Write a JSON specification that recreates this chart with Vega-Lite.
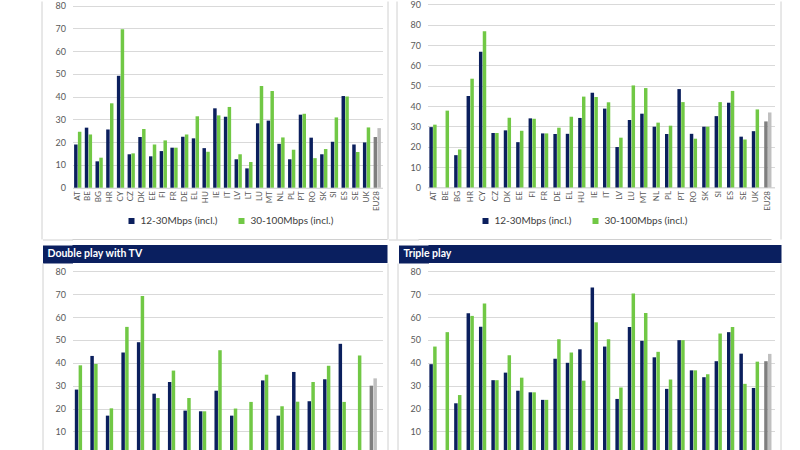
{
  "$schema": "https://vega.github.io/schema/vega-lite/v6.json",
  "padding": {"left": 41.5, "top": 0, "right": 0, "bottom": 0},
  "background": "white",
  "config": {
    "font": "Lato",
    "view": {"stroke": null},
    "axisX": {"labelAngle": -90, "labelFontSize": 8, "labelColor": "#595959", "labelPadding": 3, "ticks": false, "domainColor": "#d9d9d9", "grid": false},
    "axisY": {"labelPadding": 7, "labelFontSize": 9, "labelColor": "#595959", "ticks": false, "domain": false, "gridColor": "#d9d9d9"},
    "legend": {"orient": "none", "direction": "horizontal", "title": null, "symbolType": "square", "symbolSize": 36, "labelFontSize": 10, "labelColor": "#404040", "columnPadding": 18, "legendX": 54, "legendY": 215}
  },
  "datasets": {
    "tl": [
      {"c": "AT", "lo": 19.0, "hi": 24.6}, {"c": "BE", "lo": 26.4, "hi": 23.4}, {"c": "BG", "lo": 11.6, "hi": 13.2},
      {"c": "HR", "lo": 25.6, "hi": 37.1}, {"c": "CY", "lo": 49.2, "hi": 69.6}, {"c": "CZ", "lo": 14.7, "hi": 15.1},
      {"c": "DK", "lo": 22.3, "hi": 25.8}, {"c": "EE", "lo": 13.8, "hi": 19.0}, {"c": "FI", "lo": 16.1, "hi": 20.8},
      {"c": "FR", "lo": 17.6, "hi": 17.6}, {"c": "DE", "lo": 22.4, "hi": 23.4}, {"c": "EL", "lo": 21.7, "hi": 31.4},
      {"c": "HU", "lo": 17.4, "hi": 15.8}, {"c": "IE", "lo": 34.9, "hi": 31.8}, {"c": "IT", "lo": 31.2, "hi": 35.5},
      {"c": "LV", "lo": 12.5, "hi": 14.7}, {"c": "LT", "lo": 8.5, "hi": 11.3}, {"c": "LU", "lo": 28.3, "hi": 44.7},
      {"c": "MT", "lo": 29.5, "hi": 42.5}, {"c": "NL", "lo": 19.3, "hi": 22.1}, {"c": "PL", "lo": 12.5, "hi": 16.7},
      {"c": "PT", "lo": 32.1, "hi": 32.5}, {"c": "RO", "lo": 22.0, "hi": 13.0}, {"c": "SK", "lo": 14.7, "hi": 17.0},
      {"c": "SI", "lo": 20.2, "hi": 30.9}, {"c": "ES", "lo": 40.3, "hi": 40.1}, {"c": "SE", "lo": 19.0, "hi": 15.7},
      {"c": "UK", "lo": 19.9, "hi": 26.5}, {"c": "EU28", "lo": 22.3, "hi": 26.2}
    ],
    "tr": [
      {"c": "AT", "lo": 29.7, "hi": 30.9}, {"c": "BE", "lo": null, "hi": 37.8}, {"c": "BG", "lo": 15.9, "hi": 18.7},
      {"c": "HR", "lo": 45.0, "hi": 53.5}, {"c": "CY", "lo": 66.7, "hi": 76.8}, {"c": "CZ", "lo": 26.8, "hi": 26.8},
      {"c": "DK", "lo": 28.1, "hi": 34.3}, {"c": "EE", "lo": 22.3, "hi": 27.9}, {"c": "FI", "lo": 34.0, "hi": 33.8},
      {"c": "FR", "lo": 26.6, "hi": 26.6}, {"c": "DE", "lo": 26.3, "hi": 29.4}, {"c": "EL", "lo": 26.4, "hi": 34.8},
      {"c": "HU", "lo": 34.2, "hi": 44.7}, {"c": "IE", "lo": 46.6, "hi": 44.5}, {"c": "IT", "lo": 38.8, "hi": 41.9},
      {"c": "LV", "lo": 19.9, "hi": 24.5}, {"c": "LU", "lo": 33.2, "hi": 50.2}, {"c": "MT", "lo": 36.3, "hi": 48.9},
      {"c": "NL", "lo": 29.9, "hi": 31.9}, {"c": "PL", "lo": 26.3, "hi": 30.4}, {"c": "PT", "lo": 48.4, "hi": 42.0},
      {"c": "RO", "lo": 26.4, "hi": 24.0}, {"c": "SK", "lo": 29.9, "hi": 29.9}, {"c": "SI", "lo": 35.1, "hi": 42.0},
      {"c": "ES", "lo": 41.7, "hi": 47.5}, {"c": "SE", "lo": 25.0, "hi": 23.6}, {"c": "UK", "lo": 27.7, "hi": 38.4},
      {"c": "EU28", "lo": 32.5, "hi": 36.9}
    ],
    "bl": [
      {"c": "AT", "lo": 28.3, "hi": 38.9}, {"c": "BE", "lo": 43.0, "hi": 39.5}, {"c": "BG", "lo": 16.9, "hi": 20.1},
      {"c": "HR", "lo": 44.5, "hi": 55.7}, {"c": "CY", "lo": 49.0, "hi": 69.2}, {"c": "CZ", "lo": 26.5, "hi": 24.6},
      {"c": "DK", "lo": 31.6, "hi": 36.6}, {"c": "EE", "lo": 19.1, "hi": 24.6}, {"c": "FI", "lo": 18.8, "hi": 18.8},
      {"c": "FR", "lo": 27.8, "hi": 45.5}, {"c": "DE", "lo": 16.9, "hi": 20.0}, {"c": "EL", "lo": null, "hi": 22.9},
      {"c": "HU", "lo": 32.3, "hi": 34.8}, {"c": "IE", "lo": 16.9, "hi": 21.0}, {"c": "LU", "lo": 36.0, "hi": 23.0},
      {"c": "MT", "lo": 23.2, "hi": 31.6}, {"c": "PT", "lo": 32.8, "hi": 38.7}, {"c": "SI", "lo": 48.3, "hi": 22.9},
      {"c": "UK", "lo": null, "hi": 43.2}, {"c": "EU28", "lo": 30.0, "hi": 33.2}
    ],
    "br": [
      {"c": "AT", "lo": 39.4, "hi": 47.1}, {"c": "BE", "lo": null, "hi": 53.4}, {"c": "BG", "lo": 22.3, "hi": 25.9},
      {"c": "HR", "lo": 61.7, "hi": 60.5}, {"c": "CY", "lo": 55.8, "hi": 65.9}, {"c": "CZ", "lo": 32.4, "hi": 32.4},
      {"c": "DK", "lo": 35.7, "hi": 43.3}, {"c": "EE", "lo": 27.8, "hi": 33.5}, {"c": "FI", "lo": 27.1, "hi": 27.1},
      {"c": "FR", "lo": 23.8, "hi": 23.8}, {"c": "DE", "lo": 41.8, "hi": 50.3}, {"c": "EL", "lo": 40.0, "hi": 44.5},
      {"c": "HU", "lo": 45.9, "hi": 32.2}, {"c": "IE", "lo": 72.9, "hi": 57.7}, {"c": "IT", "lo": 47.1, "hi": 50.3},
      {"c": "LV", "lo": 24.2, "hi": 29.2}, {"c": "LU", "lo": 55.7, "hi": 70.3}, {"c": "MT", "lo": 49.6, "hi": 61.8},
      {"c": "NL", "lo": 42.4, "hi": 44.8}, {"c": "PL", "lo": 28.6, "hi": 32.7}, {"c": "PT", "lo": 49.9, "hi": 49.9},
      {"c": "RO", "lo": 36.7, "hi": 36.7}, {"c": "SK", "lo": 33.7, "hi": 35.0}, {"c": "SI", "lo": 40.7, "hi": 52.8},
      {"c": "ES", "lo": 53.4, "hi": 55.7}, {"c": "SE", "lo": 44.0, "hi": 30.8}, {"c": "UK", "lo": 29.0, "hi": 40.5},
      {"c": "EU28", "lo": 40.7, "hi": 43.9}
    ],
    "tbl": [{"t": "Double play with TV"}],
    "tbr": [{"t": "Triple play"}],
    "one": [{"k": 0}]
  },
  "vconcat": [
    {
      "vconcat": [
        {
          "hconcat": [
            {
              "width": 310, "height": 238,
              "data": {"name": "tl"},
              "transform": [{"fold": ["lo", "hi"], "as": ["speed", "value"]}],
              "encoding": {
                "x": {"field": "c", "type": "nominal", "sort": null, "title": null, "scale": {"paddingInner": 0.32, "paddingOuter": 0.15}, "axis": {"offset": -51.3}}
              },
              "layer": [
                {
                  "mark": {"type": "bar"},
                  "encoding": {
                    "xOffset": {"field": "speed", "type": "nominal", "sort": ["lo", "hi"], "scale": {"paddingInner": 0.08}},
                    "y": {"field": "value", "type": "quantitative", "title": null, "scale": {"domain": [-22.54, 82.07], "nice": false, "zero": false}, "axis": {"values": [0, 10, 20, 30, 40, 50, 60, 70, 80]}},
                    "color": {"field": "speed", "type": "nominal", "scale": {"domain": ["lo", "hi"], "range": ["#0b1f5d", "#71c845"]},
                      "condition": [{"test": "datum.c === 'EU28' && datum.speed === 'lo'", "value": "#7f7f7f"}, {"test": "datum.c === 'EU28' && datum.speed === 'hi'", "value": "#c0c0c0"}],
                      "legend": {"labelExpr": "datum.value === 'lo' ? '12-30Mbps (incl.)' : '30-100Mbps (incl.)'"}}
                  }
                },
                {
                  "mark": {"type": "point", "opacity": 0},
                  "encoding": {"y": {"field": "value", "type": "quantitative", "title": null, "scale": {"domain": [-22.54, 82.07], "nice": false, "zero": false}, "axis": {"orient": "left", "offset": 31, "domain": true, "domainColor": "#d0d0d0", "domainWidth": 1, "labels": false, "ticks": false, "grid": false}}}
                },
                {
                  "mark": {"type": "point", "opacity": 0},
                  "encoding": {"y": {"field": "value", "type": "quantitative", "title": null, "scale": {"domain": [-22.54, 82.07], "nice": false, "zero": false}, "axis": {"orient": "right", "offset": 5, "domain": true, "domainColor": "#d0d0d0", "domainWidth": 1, "labels": false, "ticks": false, "grid": false}}}
                }
              ],
              "resolve": {"axis": {"y": "independent"}}
            },
            {
              "width": 347, "height": 238,
              "data": {"name": "tr"},
              "transform": [{"fold": ["lo", "hi"], "as": ["speed", "value"]}],
              "encoding": {
                "x": {"field": "c", "type": "nominal", "sort": null, "title": null, "scale": {"paddingInner": 0.32, "paddingOuter": 0.15}, "axis": {"offset": -51.5}}
              },
              "layer": [
                {
                  "mark": {"type": "bar"},
                  "encoding": {
                    "xOffset": {"field": "speed", "type": "nominal", "sort": ["lo", "hi"], "scale": {"paddingInner": 0.08}},
                    "y": {"field": "value", "type": "quantitative", "title": null, "scale": {"domain": [-25.33, 91.72], "nice": false, "zero": false}, "axis": {"values": [0, 10, 20, 30, 40, 50, 60, 70, 80, 90]}},
                    "color": {"field": "speed", "type": "nominal", "scale": {"domain": ["lo", "hi"], "range": ["#0b1f5d", "#71c845"]},
                      "condition": [{"test": "datum.c === 'EU28' && datum.speed === 'lo'", "value": "#7f7f7f"}, {"test": "datum.c === 'EU28' && datum.speed === 'hi'", "value": "#c0c0c0"}],
                      "legend": {"labelExpr": "datum.value === 'lo' ? '12-30Mbps (incl.)' : '30-100Mbps (incl.)'", "legendX": 53}}
                  }
                },
                {
                  "mark": {"type": "point", "opacity": 0},
                  "encoding": {"y": {"field": "value", "type": "quantitative", "title": null, "scale": {"domain": [-25.33, 91.72], "nice": false, "zero": false}, "axis": {"orient": "left", "offset": 31, "domain": true, "domainColor": "#d0d0d0", "domainWidth": 1, "labels": false, "ticks": false, "grid": false}}}
                },
                {
                  "mark": {"type": "point", "opacity": 0},
                  "encoding": {"y": {"field": "value", "type": "quantitative", "title": null, "scale": {"domain": [-25.33, 91.72], "nice": false, "zero": false}, "axis": {"orient": "right", "offset": 6, "domain": true, "domainColor": "#d0d0d0", "domainWidth": 1, "labels": false, "ticks": false, "grid": false}}}
                }
              ],
              "resolve": {"axis": {"y": "independent"}}
            }
          ],
          "spacing": 9,
          "resolve": {"scale": {"color": "independent"}, "legend": {"color": "independent"}}
        },
        {
          "hconcat": [
            {
              "width": 315, "height": 1,
              "data": {"name": "one"},
              "view": {"fill": "#d0d0d0", "stroke": null},
              "mark": {"type": "point", "opacity": 0},
              "encoding": {
                "x": {"datum": 0, "type": "quantitative", "scale": {"domain": [0, 1]}, "axis": null},
                "y": {"datum": 0, "type": "quantitative", "scale": {"domain": [0, 1]}, "axis": {"title": null, "domain": true, "domainColor": "#d0d0d0", "domainWidth": 30, "offset": 15, "labels": false, "ticks": false, "grid": false}}
              }
            },
            {
              "width": 353, "height": 1,
              "data": {"name": "one"},
              "view": {"fill": "#d0d0d0", "stroke": null},
              "mark": {"type": "point", "opacity": 0},
              "encoding": {
                "x": {"datum": 0, "type": "quantitative", "scale": {"domain": [0, 1]}, "axis": null},
                "y": {"datum": 0, "type": "quantitative", "scale": {"domain": [0, 1]}, "axis": {"title": null, "domain": true, "domainColor": "#d0d0d0", "domainWidth": 30, "offset": 15, "labels": false, "ticks": false, "grid": false}}
              }
            }
          ],
          "spacing": 16
        }
      ],
      "spacing": -4,
      "resolve": {"scale": {"color": "independent"}, "legend": {"color": "independent"}}
    },
    {
      "vconcat": [
        {
          "hconcat": [
            {
              "width": 315, "height": 18,
              "data": {"name": "tbl"},
              "view": {"fill": "#0a1f5f", "stroke": null},
              "mark": {"type": "text", "align": "left", "baseline": "middle", "color": "white", "fontWeight": "bold", "fontSize": 10.5, "dx": -25},
              "encoding": {
                "text": {"field": "t"},
                "x": {"datum": 0, "type": "quantitative", "scale": {"domain": [0, 1]}, "axis": null},
                "y": {"datum": 0.5, "type": "quantitative", "scale": {"domain": [0, 1]}, "axis": {"title": null, "domain": true, "domainColor": "#0a1f5f", "domainWidth": 30, "offset": 15, "labels": false, "ticks": false, "grid": false}}
              }
            },
            {
              "width": 353, "height": 18,
              "data": {"name": "tbr"},
              "view": {"fill": "#0a1f5f", "stroke": null},
              "mark": {"type": "text", "align": "left", "baseline": "middle", "color": "white", "fontWeight": "bold", "fontSize": 10.5, "dx": -25},
              "encoding": {
                "text": {"field": "t"},
                "x": {"datum": 0, "type": "quantitative", "scale": {"domain": [0, 1]}, "axis": null},
                "y": {"datum": 0.5, "type": "quantitative", "scale": {"domain": [0, 1]}, "axis": {"title": null, "domain": true, "domainColor": "#0a1f5f", "domainWidth": 30, "offset": 15, "labels": false, "ticks": false, "grid": false}}
              }
            }
          ],
          "spacing": 16
        },
        {
          "hconcat": [
            {
              "width": 310, "height": 191.3,
              "data": {"name": "bl"},
              "transform": [{"fold": ["lo", "hi"], "as": ["speed", "value"]}],
              "encoding": {
                "x": {"field": "c", "type": "nominal", "sort": null, "title": null, "scale": {"paddingInner": 0.32, "paddingOuter": 0.15}}
              },
              "layer": [
                {
                  "mark": {"type": "bar"},
                  "encoding": {
                    "xOffset": {"field": "speed", "type": "nominal", "sort": ["lo", "hi"], "scale": {"paddingInner": 0.08}},
                    "y": {"field": "value", "type": "quantitative", "title": null, "scale": {"domain": [0, 83.63], "nice": false}, "axis": {"values": [0, 10, 20, 30, 40, 50, 60, 70, 80]}},
                    "color": {"field": "speed", "type": "nominal", "scale": {"domain": ["lo", "hi"], "range": ["#0b1f5d", "#71c845"]},
                      "condition": [{"test": "datum.c === 'EU28' && datum.speed === 'lo'", "value": "#7f7f7f"}, {"test": "datum.c === 'EU28' && datum.speed === 'hi'", "value": "#c0c0c0"}],
                      "legend": {"labelExpr": "datum.value === 'lo' ? '12-30Mbps (incl.)' : '30-100Mbps (incl.)'"}}
                  }
                },
                {
                  "mark": {"type": "point", "opacity": 0},
                  "encoding": {"y": {"field": "value", "type": "quantitative", "title": null, "scale": {"domain": [0, 83.63], "nice": false}, "axis": {"orient": "left", "offset": 30, "domain": true, "domainColor": "#d0d0d0", "domainWidth": 1, "labels": false, "ticks": false, "grid": false}}}
                },
                {
                  "mark": {"type": "point", "opacity": 0},
                  "encoding": {"y": {"field": "value", "type": "quantitative", "title": null, "scale": {"domain": [0, 83.63], "nice": false}, "axis": {"orient": "right", "offset": 5, "domain": true, "domainColor": "#d0d0d0", "domainWidth": 1, "labels": false, "ticks": false, "grid": false}}}
                }
              ],
              "resolve": {"axis": {"y": "independent"}}
            },
            {
              "width": 347, "height": 191.3,
              "data": {"name": "br"},
              "transform": [{"fold": ["lo", "hi"], "as": ["speed", "value"]}],
              "encoding": {
                "x": {"field": "c", "type": "nominal", "sort": null, "title": null, "scale": {"paddingInner": 0.32, "paddingOuter": 0.15}}
              },
              "layer": [
                {
                  "mark": {"type": "bar"},
                  "encoding": {
                    "xOffset": {"field": "speed", "type": "nominal", "sort": ["lo", "hi"], "scale": {"paddingInner": 0.08}},
                    "y": {"field": "value", "type": "quantitative", "title": null, "scale": {"domain": [0, 83.63], "nice": false}, "axis": {"values": [0, 10, 20, 30, 40, 50, 60, 70, 80]}},
                    "color": {"field": "speed", "type": "nominal", "scale": {"domain": ["lo", "hi"], "range": ["#0b1f5d", "#71c845"]},
                      "condition": [{"test": "datum.c === 'EU28' && datum.speed === 'lo'", "value": "#7f7f7f"}, {"test": "datum.c === 'EU28' && datum.speed === 'hi'", "value": "#c0c0c0"}],
                      "legend": {"labelExpr": "datum.value === 'lo' ? '12-30Mbps (incl.)' : '30-100Mbps (incl.)'", "legendX": 53}}
                  }
                },
                {
                  "mark": {"type": "point", "opacity": 0},
                  "encoding": {"y": {"field": "value", "type": "quantitative", "title": null, "scale": {"domain": [0, 83.63], "nice": false}, "axis": {"orient": "left", "offset": 30, "domain": true, "domainColor": "#d0d0d0", "domainWidth": 1, "labels": false, "ticks": false, "grid": false}}}
                },
                {
                  "mark": {"type": "point", "opacity": 0},
                  "encoding": {"y": {"field": "value", "type": "quantitative", "title": null, "scale": {"domain": [0, 83.63], "nice": false}, "axis": {"orient": "right", "offset": 6, "domain": true, "domainColor": "#d0d0d0", "domainWidth": 1, "labels": false, "ticks": false, "grid": false}}}
                }
              ],
              "resolve": {"axis": {"y": "independent"}}
            }
          ],
          "spacing": 10,
          "resolve": {"scale": {"color": "independent"}, "legend": {"color": "independent"}}
        }
      ],
      "spacing": 0,
      "resolve": {"scale": {"color": "independent"}, "legend": {"color": "independent"}}
    }
  ],
  "spacing": 2,
  "resolve": {"scale": {"color": "independent"}, "legend": {"color": "independent"}}
}
